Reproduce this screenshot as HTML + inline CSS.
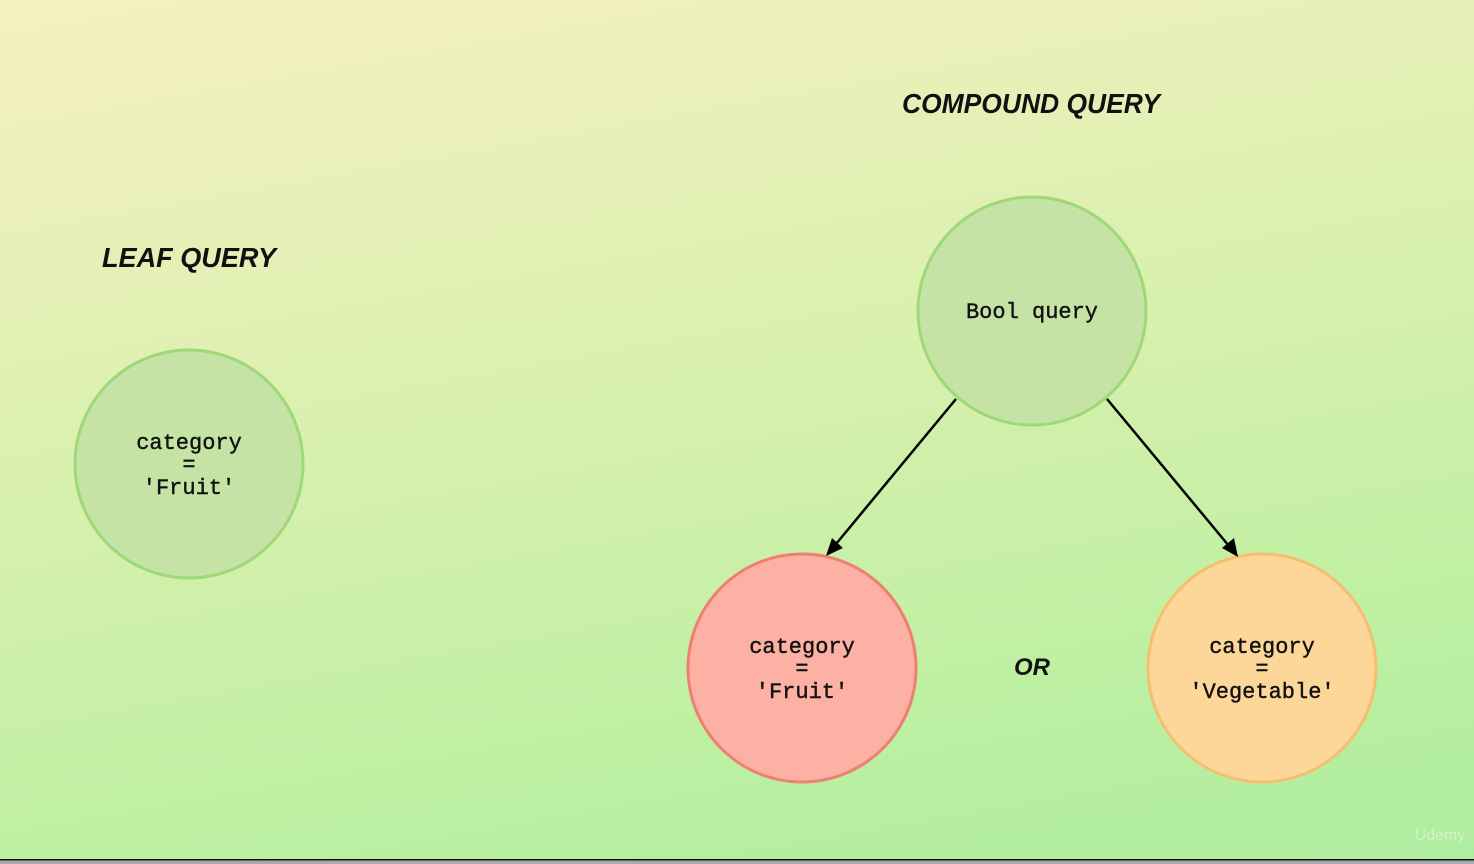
<!DOCTYPE html>
<html><head><style>
html,body{margin:0;padding:0;}
body{width:1474px;height:864px;overflow:hidden;background:linear-gradient(170deg,#f6f0c0 0%,#dcf0b0 40%,#bff0a2 75%,#aeeda0 100%);}
svg{position:absolute;left:0;top:0;}
</style></head><body>
<svg width="1474" height="864" xmlns="http://www.w3.org/2000/svg">
<g font-family="Liberation Sans, sans-serif" font-weight="bold" font-style="italic" font-size="28" fill="#111">
<text x="1031" y="113" text-anchor="middle" textLength="258" lengthAdjust="spacingAndGlyphs">COMPOUND QUERY</text>
<text x="189" y="267" text-anchor="middle" textLength="174" lengthAdjust="spacingAndGlyphs">LEAF QUERY</text>
<text x="1032" y="675" text-anchor="middle" font-size="24">OR</text>
</g>
<g stroke-width="3">
<circle cx="189" cy="464" r="114" fill="#c5e3a5" stroke="#9fd877"/>
<circle cx="1032" cy="311" r="114" fill="#c5e3a5" stroke="#9fd877"/>
<circle cx="802" cy="668" r="114" fill="#fdb0a4" stroke="#ef7f72"/>
<circle cx="1262" cy="668" r="114" fill="#fdd79a" stroke="#f6be70"/>
</g>
<g stroke="#000" stroke-width="2.5">
<line x1="956" y1="399" x2="836" y2="544"/>
<line x1="1107" y1="399" x2="1229" y2="546"/>
</g>
<polygon points="826,556 832,538 843,548" fill="#000"/>
<polygon points="1238,557 1222,548 1234,538" fill="#000"/>
<g font-family="Liberation Mono, monospace" font-size="22" fill="#111" text-anchor="middle" stroke="#111" stroke-width="0.4">
<text x="189" y="449">category</text><text x="189" y="471">=</text><text x="189" y="494">'Fruit'</text>
<text x="1032" y="318">Bool query</text>
<text x="802" y="653">category</text><text x="802" y="675">=</text><text x="802" y="698">'Fruit'</text>
<text x="1262" y="653">category</text><text x="1262" y="675">=</text><text x="1262" y="698">'Vegetable'</text>
</g>
<text x="1440" y="840" font-family="Liberation Sans, sans-serif" font-size="16" fill="#d8f0cc" text-anchor="middle">Udemy</text>
<rect x="0" y="859" width="1474" height="1.5" fill="#111"/>
<rect x="0" y="860.5" width="1474" height="4" fill="#aaa"/>
</svg>
</body></html>
